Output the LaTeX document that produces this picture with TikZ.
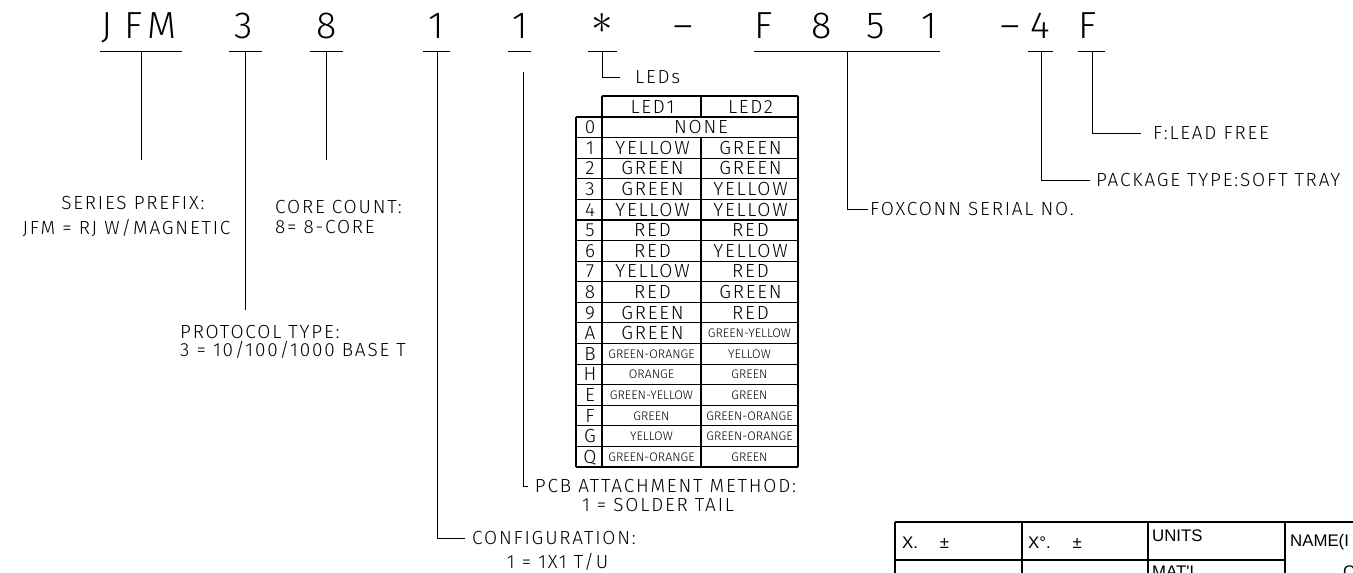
\documentclass[tikz,border=0pt]{standalone}
\usepackage{graphicx}
\usepackage{fontspec}
\newfontfamily\cad{Fira Sans Light}
\newfontfamily\cadls{Fira Sans Light}[LetterSpace=9.5]
\newfontfamily\tb{Liberation Sans}
\begin{document}
\begin{tikzpicture}[x=1pt,y=-1pt,
  code/.style={font=\cad\fontsize{37.7}{40}\selectfont, anchor=base, inner sep=0pt},
  lab/.style={font=\cadls\fontsize{19}{22}\selectfont, anchor=base, inner sep=0pt},
  labw/.style={lab, anchor=base west},
  sm/.style={font=\cad\fontsize{12.4}{15}\selectfont, anchor=base, inner sep=0pt},
  tbt/.style={font=\tb\fontsize{16.8}{19}\selectfont, anchor=base west, inner sep=0pt},
  ln/.style={line width=0.9pt, line cap=rect},
  gl/.style={line width=1.1pt}]
\useasboundingbox (0,0) rectangle (1353,573);
\clip (0,0) rectangle (1353,573);
% ---- code characters
\node[code] (cJ) at (107,38) {J};
\node[code] (cF) at (133.5,38) {F};
\node[code] (cM) at (162,38) {M};
\node[code] (c3) at (244,38) {3};
\node[code] (c8) at (326.5,38) {8};
\node[code] (c1a) at (436.5,38) {1};
\node[code] (c1b) at (520,38) {1};
\node[inner sep=0pt] (cst) at (602,23) {\scalebox{4.3}{$\ast$}};
\node[code] (cd1) at (683,38) {–};
\node[code] (cF2) at (763.5,38) {F};
\node[code] (c8b) at (822,38) {8};
\node[code] (c5) at (875.5,38) {5};
\node[code] (c1c) at (929.5,38) {1};
\node[code] (cd2) at (1010,38) {–};
\node[code] (c4) at (1040,38) {4};
\node[code] (cF3) at (1087.5,38) {F};
% ---- underlines
\draw[ln] (100,51) -- (182,51);
\draw[ln] (229,51) -- (262,51);
\draw[ln] (310,51) -- (343,51);
\draw[ln] (423,51) -- (450,51);
\draw[ln] (508,51) -- (531,51);
\draw[ln] (588,51) -- (617,51);
\draw[ln] (754,51) -- (940,51);
\draw[ln] (1028,51) -- (1053,51);
\draw[ln] (1078,51) -- (1105,51);
% ---- connector coordinates
\coordinate (uJFM) at (141,51);   \coordinate (eJFM) at (141,160);
\coordinate (u3) at (245,51);     \coordinate (e3) at (245,310);
\coordinate (u8) at (326,51);     \coordinate (e8) at (326,160);
\coordinate (u1a) at (437,51);    \coordinate (k1a) at (437,538); \coordinate (e1a) at (465,538);
\coordinate (u1b) at (523,72);    \coordinate (k1b) at (523,486); \coordinate (e1b) at (528,486);
\coordinate (ust) at (602,51);    \coordinate (kst) at (602,77);  \coordinate (est) at (620,77);
\coordinate (uF) at (847,51);     \coordinate (kF) at (847,209);  \coordinate (eF) at (868,209);
\coordinate (u4) at (1041,51);    \coordinate (k4) at (1041,180); \coordinate (e4) at (1090,180);
\coordinate (uF3) at (1092,51);   \coordinate (kF3) at (1092,133); \coordinate (eF3) at (1141,133);
\draw[ln] (uJFM) -- (eJFM);
\draw[ln] (u3) -- (e3);
\draw[ln] (u8) -- (e8);
\draw[ln] (u1a) -- (k1a) -- (e1a);
\draw[ln] (u1b) -- (k1b) -- (e1b);
\draw[ln] (ust) -- (kst) -- (est);
\draw[ln] (uF) -- (kF) -- (eF);
\draw[ln] (u4) -- (k4) -- (e4);
\draw[ln] (uF3) -- (kF3) -- (eF3);
% ---- labels
\node[lab] (sp1) at (133,209.5) {SERIES PREFIX:};
\node[lab] (sp2) at (126.5,234.5) {JFM = RJ W/MAGNETIC};
\node[labw] (cc1) at (275,213.5) {CORE COUNT:};
\node[labw] (cc2) at (275,233.5) {8= 8-CORE};
\node[labw] (pt1) at (180,338.5) {PROTOCOL TYPE:};
\node[labw] (pt2) at (180,356.5) {3 = 10/100/1000 BASE T};
\node[labw] (leds) at (635,83.5) {LEDs};
\node[lab] (pcb1) at (665.5,492.5) {PCB ATTACHMENT METHOD:};
\node[lab] (pcb2) at (658,511.5) {1 = SOLDER TAIL};
\node[labw] (cf1) at (472,544.5) {CONFIGURATION:};
\node[lab] (cf2) at (557.5,568.5) {1 = 1X1 T/U};
\node[labw] (fox) at (870,215.5) {FOXCONN SERIAL NO.};
\node[labw] (pkg) at (1096,186.5) {PACKAGE TYPE:SOFT TRAY};
\node[labw] (lf) at (1153,139.5) {F:LEAD FREE};
% ---- LED table
\def\rh{20.59}
\draw[gl] (602,96) -- (798,96);
\draw[gl] (576,117) -- (798,117);
\foreach \k in {1,...,17} \draw[gl] (576,{117+\rh*\k}) -- (798,{117+\rh*\k});
\draw[gl] (576,117) -- (576,{117+\rh*17});
\draw[gl] (602,96) -- (602,{117+\rh*17});
\draw[gl] (798,96) -- (798,{117+\rh*17});
\draw[gl] (701,96) -- (701,117);
\draw[gl] (701,{117+\rh}) -- (701,{117+\rh*17});
\node[lab] (h1) at (652.5,113) {LED1};
\node[lab] (h2) at (750.5,113) {LED2};
\node[lab] (r0i) at (590,{117+\rh*0.5+6.5}) {0};
\node[lab] (r0) at (701,{117+\rh*0.5+6.5}) {NONE};
\foreach \i/\k/\a/\b in {1/1/YELLOW/GREEN,2/2/GREEN/GREEN,3/3/GREEN/YELLOW,4/4/YELLOW/YELLOW,5/5/RED/RED,6/6/RED/YELLOW,7/7/YELLOW/RED,8/8/RED/GREEN,9/9/GREEN/RED}{
  \node[lab] (ri\i) at (590,{117+\rh*(\i+0.5)+6.5}) {\k};
  \node[lab] (ra\i) at (652.5,{117+\rh*(\i+0.5)+6.5}) {\a};
  \node[lab] (rb\i) at (750.5,{117+\rh*(\i+0.5)+6.5}) {\b};
}
\node[lab] (ri10) at (590,{117+\rh*10.5+6.5}) {A};
\node[lab] (ra10) at (652.5,{117+\rh*10.5+6.5}) {GREEN};
\node[sm] (rb10) at (749.5,{117+\rh*10.5+4.5}) {GREEN-YELLOW};
\foreach \i/\k/\a/\b in {11/B/GREEN-ORANGE/YELLOW,12/H/ORANGE/GREEN,13/E/GREEN-YELLOW/GREEN,14/F/GREEN/GREEN-ORANGE,15/G/YELLOW/GREEN-ORANGE,16/Q/GREEN-ORANGE/GREEN}{
  \node[lab] (ri\i) at (590,{117+\rh*(\i+0.5)+6.5}) {\k};
  \node[sm] (ra\i) at (651.5,{117+\rh*(\i+0.5)+4.5}) {\a};
  \node[sm] (rb\i) at (749.5,{117+\rh*(\i+0.5)+4.5}) {\b};
}
% ---- title block fragment
\draw[gl] (895,522) -- (1360,522);
\draw[gl] (895,560) -- (1285,560);
\draw[gl] (895,522) -- (895,580);
\draw[gl] (1022,522) -- (1022,580);
\draw[gl] (1148,522) -- (1148,580);
\draw[gl] (1285,522) -- (1285,580);
\node[tbt] (tx1) at (902,548) {X.\hspace{1.3em}±};
\node[tbt] (tx2) at (1028,548) {X°.\hspace{1.3em}±};
\node[tbt] (tun) at (1152,541) {UNITS};
\node[tbt] (tna) at (1290,546) {NAME(I};
\node[tbt] (tma) at (1152,577) {MAT'L};
\node[tbt] (tc) at (1343,577) {C};
\end{tikzpicture}
\end{document}
